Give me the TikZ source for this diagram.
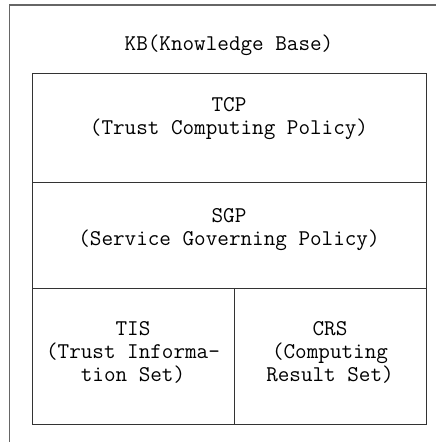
\documentclass[tikz,border=0pt]{standalone}
\begin{document}
\begin{tikzpicture}[x=1pt,y=-1pt,
  cell/.style={draw=black!80,line width=1.2pt,anchor=north west,inner sep=0pt},
  outer/.style={draw=black!60,line width=1.8pt},
  lbl/.style={align=center,inner sep=0pt,font=\ttfamily\fontsize{22.5}{23}\selectfont}]
\useasboundingbox (0,0) rectangle (436,442);
% knowledge base frame: only its top and left sides lie on the page
\node[anchor=north west,inner sep=0pt,minimum width=520pt,minimum height=520pt] (kb) at (9.5,5) {};
\begin{scope}
\clip (0,0) rectangle (436,442);
\draw[outer] (kb.south west) -- (kb.north west) -- (kb.north east);
\end{scope}
\node[lbl] (kbt) at (229,45) {KB(Knowledge Base)};
% policy and set cells
\node[cell,minimum width=394pt,minimum height=109pt] (tcp) at (32,73) {};
\node[cell,minimum width=394pt,minimum height=106pt] (sgp) at (32,182) {};
\node[cell,minimum width=202pt,minimum height=136pt] (tis) at (32,288) {};
\node[cell,minimum width=192pt,minimum height=136pt] (crs) at (234,288) {};
\node[lbl] (tcpt) at (229,118.5) {TCP\\(Trust Computing Policy)};
\node[lbl] (sgpt) at (229,230) {SGP\\(Service Governing Policy)};
\node[lbl] (tist) at (133,352) {TIS\\(Trust Informa-\\tion Set)};
\node[lbl] (crst) at (330,352) {CRS\\(Computing\\Result Set)};
\end{tikzpicture}
\end{document}
